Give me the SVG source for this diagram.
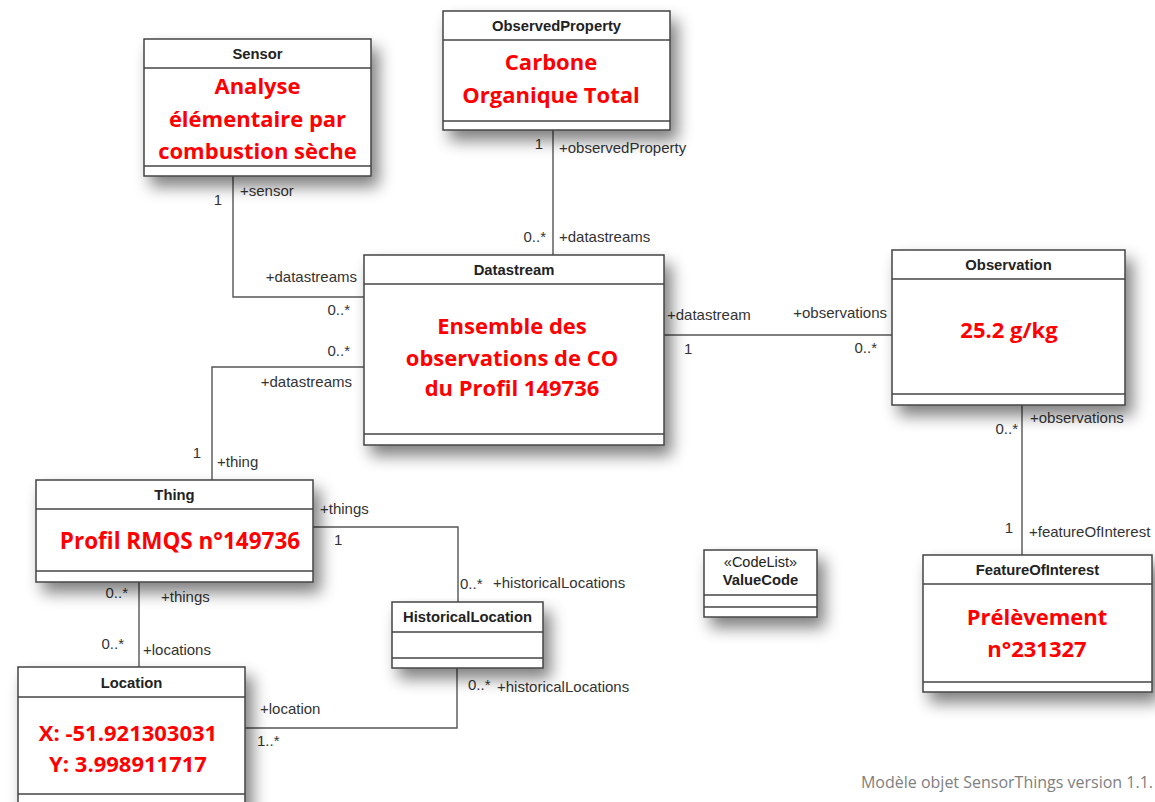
<svg xmlns="http://www.w3.org/2000/svg" width="1155" height="802" viewBox="0 0 1155 802">
<defs>
<filter id="sh" x="-20%" y="-20%" width="150%" height="170%">
<feGaussianBlur in="SourceAlpha" stdDeviation="8"/>
<feOffset dx="7" dy="10" result="b"/>
<feComponentTransfer><feFuncA type="linear" slope="0.5"/></feComponentTransfer>
<feMerge><feMergeNode/><feMergeNode in="SourceGraphic"/></feMerge>
</filter>
<style>
.box{fill:#fff;stroke:#444;stroke-width:1.5}
.sep{stroke:#444;stroke-width:1.5;fill:none}
.ttl{font-family:"Liberation Sans",Arial,sans-serif;font-weight:bold;font-size:14.8px;fill:#222;text-anchor:middle}
.st{font-family:"Liberation Sans",Arial,sans-serif;font-size:14.5px;fill:#222;text-anchor:middle}
.red{font-family:"Open Sans",sans-serif;font-weight:bold;font-size:22px;fill:#ff0000;text-anchor:middle}
.lbl{font-family:"Liberation Sans",Arial,sans-serif;font-size:15px;fill:#333}
.end{text-anchor:end}
.con{fill:none;stroke:#555;stroke-width:1.4}
.cap{font-family:"Open Sans",sans-serif;font-size:16px;fill:#808080;text-anchor:end}
</style>
</defs>
<rect width="1155" height="802" fill="#fff"/>

<g id="connectors">
<polyline class="con" points="233,176 233,297 364,297"/>
<line class="con" x1="553" y1="130" x2="553" y2="255"/>
<line class="con" x1="664" y1="335" x2="892" y2="335"/>
<line class="con" x1="1022" y1="405" x2="1022" y2="555"/>
<polyline class="con" points="364,367 212,367 212,480"/>
<polyline class="con" points="313,527 458,527 458,602"/>
<line class="con" x1="139" y1="582" x2="139" y2="667"/>
<polyline class="con" points="245,728 457,728 457,668"/>
<g id="labels">
<text class="lbl end" x="222" y="205">1</text>
<text class="lbl" x="240" y="196">+sensor</text>
<text class="lbl end" x="357" y="282">+datastreams</text>
<text class="lbl end" x="350" y="315">0..*</text>
<text class="lbl end" x="543" y="149">1</text>
<text class="lbl" x="559" y="153">+observedProperty</text>
<text class="lbl end" x="546" y="242">0..*</text>
<text class="lbl" x="559" y="242">+datastreams</text>
<text class="lbl" x="667" y="320">+datastream</text>
<text class="lbl" x="684" y="354">1</text>
<text class="lbl end" x="887" y="318">+observations</text>
<text class="lbl end" x="877" y="353">0..*</text>
<text class="lbl end" x="1018" y="434">0..*</text>
<text class="lbl" x="1030" y="423">+observations</text>
<text class="lbl end" x="1013" y="533">1</text>
<text class="lbl" x="1029" y="537">+featureOfInterest</text>
<text class="lbl end" x="350" y="356">0..*</text>
<text class="lbl end" x="352" y="387">+datastreams</text>
<text class="lbl end" x="201" y="458">1</text>
<text class="lbl" x="217" y="467">+thing</text>
<text class="lbl" x="320" y="514">+things</text>
<text class="lbl" x="334" y="545">1</text>
<text class="lbl" x="460" y="589">0..*</text>
<text class="lbl" x="493" y="588">+historicalLocations</text>
<text class="lbl end" x="128" y="598">0..*</text>
<text class="lbl" x="161" y="602">+things</text>
<text class="lbl end" x="124" y="649">0..*</text>
<text class="lbl" x="143" y="655">+locations</text>
<text class="lbl" x="260" y="714">+location</text>
<text class="lbl" x="257" y="746">1..*</text>
<text class="lbl" x="468" y="690">0..*</text>
<text class="lbl" x="497" y="692">+historicalLocations</text>
</g>
</g>

<g id="sensor">
<rect class="box" x="144" y="39" width="227" height="137" filter="url(#sh)"/>
<line class="sep" x1="144" y1="68" x2="371" y2="68"/>
<line class="sep" x1="144" y1="166" x2="371" y2="166"/>
<text class="ttl" x="257.5" y="59">Sensor</text>
<text class="red" x="257.5" y="94">Analyse</text>
<text class="red" x="257.5" y="127">élémentaire par</text>
<text class="red" x="257.5" y="159">combustion sèche</text>
</g>

<g id="observedproperty">
<rect class="box" x="443" y="11" width="227" height="119" filter="url(#sh)"/>
<line class="sep" x1="443" y1="40" x2="670" y2="40"/>
<line class="sep" x1="443" y1="121" x2="670" y2="121"/>
<text class="ttl" x="556.5" y="31">ObservedProperty</text>
<text class="red" x="551" y="70">Carbone</text>
<text class="red" x="551" y="103">Organique Total</text>
</g>

<g id="datastream">
<rect class="box" x="364" y="255" width="300" height="190" filter="url(#sh)"/>
<line class="sep" x1="364" y1="284" x2="664" y2="284"/>
<line class="sep" x1="364" y1="434" x2="664" y2="434"/>
<text class="ttl" x="514" y="275">Datastream</text>
<text class="red" x="512" y="334">Ensemble des</text>
<text class="red" x="512" y="366">observations de CO</text>
<text class="red" x="512" y="396">du Profil 149736</text>
</g>

<g id="observation">
<rect class="box" x="892" y="250" width="233" height="155" filter="url(#sh)"/>
<line class="sep" x1="892" y1="279" x2="1125" y2="279"/>
<line class="sep" x1="892" y1="394" x2="1125" y2="394"/>
<text class="ttl" x="1008.5" y="270">Observation</text>
<text class="red" x="1009" y="338">25.2 g/kg</text>
</g>

<g id="featureofinterest">
<rect class="box" x="923" y="555" width="229" height="137" filter="url(#sh)"/>
<line class="sep" x1="923" y1="584" x2="1152" y2="584"/>
<line class="sep" x1="923" y1="682" x2="1152" y2="682"/>
<text class="ttl" x="1037.5" y="575">FeatureOfInterest</text>
<text class="red" x="1037" y="625">Prélèvement</text>
<text class="red" x="1037" y="657">n°231327</text>
</g>

<g id="valuecode">
<rect class="box" x="704" y="550" width="113" height="67" filter="url(#sh)"/>
<line class="sep" x1="704" y1="595" x2="817" y2="595"/>
<line class="sep" x1="704" y1="607" x2="817" y2="607"/>
<text class="st" x="760.5" y="567">«CodeList»</text>
<text class="ttl" x="760.5" y="585">ValueCode</text>
</g>

<g id="thing">
<rect class="box" x="36" y="480" width="277" height="102" filter="url(#sh)"/>
<line class="sep" x1="36" y1="509" x2="313" y2="509"/>
<line class="sep" x1="36" y1="571" x2="313" y2="571"/>
<text class="ttl" x="174.5" y="500">Thing</text>
<text class="red" x="180" y="549" style="font-size:22.5px">Profil RMQS n°149736</text>
</g>

<g id="historicallocation">
<rect class="box" x="392" y="602" width="151" height="66" filter="url(#sh)"/>
<line class="sep" x1="392" y1="632" x2="543" y2="632"/>
<line class="sep" x1="392" y1="658" x2="543" y2="658"/>
<text class="ttl" x="467.5" y="622">HistoricalLocation</text>
</g>

<g id="location">
<rect class="box" x="18" y="667" width="227" height="150" filter="url(#sh)"/>
<line class="sep" x1="18" y1="697" x2="245" y2="697"/>
<line class="sep" x1="18" y1="794" x2="245" y2="794"/>
<text class="ttl" x="131.5" y="688">Location</text>
<text class="red" x="128" y="741">X: -51.921303031</text>
<text class="red" x="128" y="772">Y: 3.998911717</text>
</g>

<text class="cap" x="1153" y="788">Modèle objet SensorThings version 1.1.</text>
</svg>
